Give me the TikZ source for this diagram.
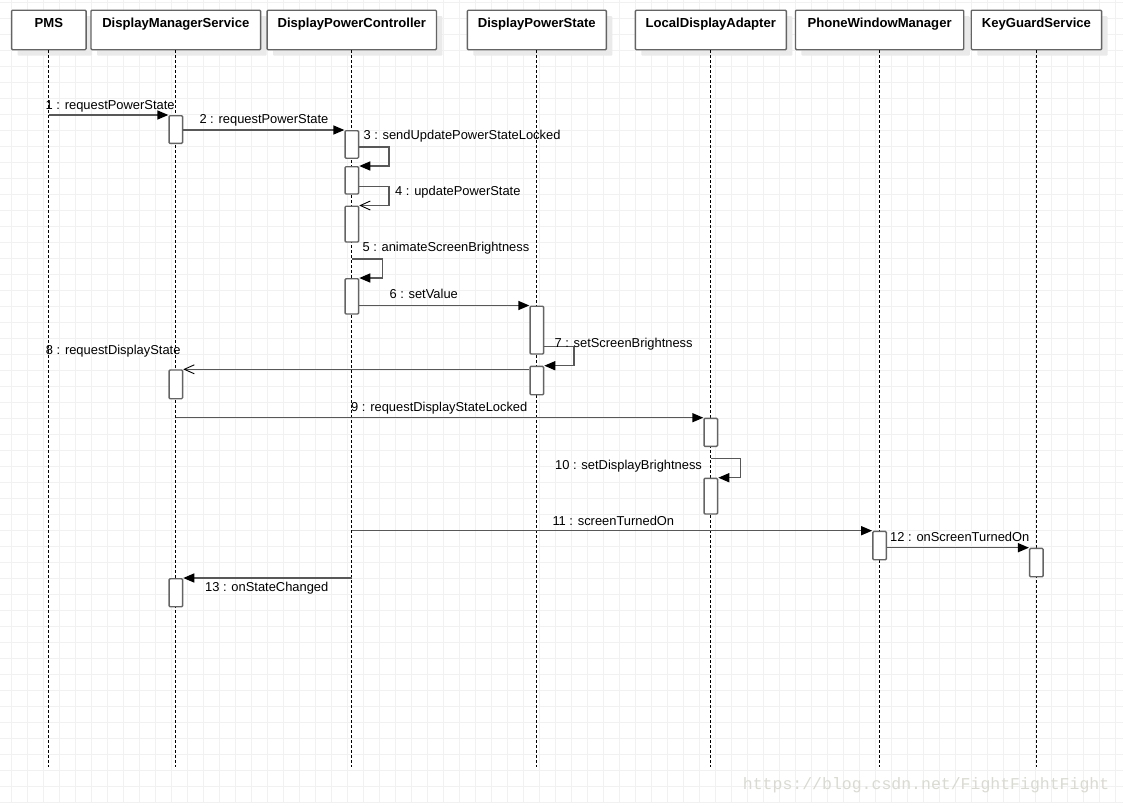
\documentclass[tikz,border=0pt]{standalone}
\usepackage{fontspec}
\setmainfont{Liberation Sans}
\newfontfamily\wmfont{Liberation Mono}
\usetikzlibrary{arrows.meta,shadows}
\definecolor{gridc}{RGB}{241,241,241}
\definecolor{linec}{RGB}{88,88,88}
\definecolor{boxc}{RGB}{100,100,100}
\definecolor{shadc}{RGB}{234,234,234}
\definecolor{wmc}{RGB}{218,218,210}
\begin{document}
\begin{tikzpicture}[x=1pt,y=-1pt,
  gridl/.style={draw=gridc, line width=1pt},
  head/.style={draw=boxc, line width=1.4pt, fill=white, rounded corners=1pt,
    inner xsep=0pt, inner ysep=0pt, text height=17.2pt, text depth=22.3pt,
    anchor=north, font=\fontsize{13.1}{15}\selectfont\bfseries,
    drop shadow={shadow xshift=6pt, shadow yshift=-6pt, fill=shadc, opacity=1}},
  life/.style={draw=black, line width=1pt, dash pattern=on 3pt off 2pt},
  act/.style={draw=boxc, line width=1.4pt, fill=white, rounded corners=1pt,
    minimum width=13.5pt, inner sep=0pt, anchor=north},
  msg/.style={draw=linec, line width=1.4pt, -{Triangle[length=11pt,width=9pt,color=black]}},
  msgopen/.style={draw=linec, line width=1.4pt, -{Straight Barb[length=10pt,width=9pt,color=black,line width=0.9pt]}},
  lbl/.style={anchor=base west, inner sep=0pt, font=\fontsize{12.9}{15}\selectfont},
]
\useasboundingbox (0,0) rectangle (1123,803);
\fill[white] (0,0) rectangle (1123,803);
% grid
\foreach \x in {11.3,27.3,...,1123} \draw[gridl] (\x,0) -- (\x,803);
\foreach \y in {2,18,...,803} \draw[gridl] (0,\y) -- (1123,\y);

% headers
\node[head, minimum width=74.5pt]  (pms) at (48.8,9.5)   {PMS};
\node[head, minimum width=169.6pt] (dms) at (175.8,9.5)  {DisplayManagerService};
\node[head, minimum width=169.3pt] (dpc) at (351.8,9.5)  {DisplayPowerController};
\node[head, minimum width=139pt]   (dps) at (536.8,9.5)  {DisplayPowerState};
\node[head, minimum width=151pt]   (lda) at (710.8,9.5)  {LocalDisplayAdapter};
\node[head, minimum width=168.3pt] (pwm) at (879.6,9.5)  {PhoneWindowManager};
\node[head, minimum width=130.3pt] (kgs) at (1036.4,9.5) {KeyGuardService};

\coordinate (bottom) at (0,767);
\foreach \n in {pms,dms,dpc,dps,lda,pwm,kgs}
  \draw[life] (\n.south) -- (\n.south |- bottom);

% activations
\node[act, minimum height=27.7pt] (dms1) at (175.8,115) {};
\node[act, minimum height=28.7pt] (dms2) at (175.8,369.3) {};
\node[act, minimum height=28pt]   (dms3) at (175.8,578) {};
\node[act, minimum height=27.5pt] (dpc1) at (351.8,130) {};
\node[act, minimum height=27.3pt] (dpc2) at (351.8,166) {};
\node[act, minimum height=35.8pt] (dpc3) at (351.8,205.5) {};
\node[act, minimum height=35.3pt] (dpc4) at (351.8,278) {};
\node[act, minimum height=47.8pt] (dps1) at (536.8,305.5) {};
\node[act, minimum height=28.3pt] (dps2) at (536.8,365.7) {};
\node[act, minimum height=28pt]   (lda1) at (710.8,417.7) {};
\node[act, minimum height=35.6pt] (lda2) at (710.8,477.7) {};
\node[act, minimum height=28.3pt] (pwm1) at (879.6,530.7) {};
\node[act, minimum height=28.3pt] (kgs1) at (1036.4,547.7) {};

% messages
\draw[msg] (dms1.north west -| pms) -- (dms1.north west);
\draw[msg] (dpc1.north west -| dms1.east) -- (dpc1.north west);
\draw[msg] ([yshift=-2.5pt]dpc1.east) -- ++(29.8,0) |- (dpc2.north east);
\draw[msgopen] ([yshift=-6pt]dpc2.east) -- ++(29.8,0) |- (dpc3.north east);
\draw[msg] ([yshift=-16.4pt]dpc3.south) -- ++(30.5,0) |- (dpc4.north east);
\draw[msg] (dps1.north west -| dpc4.east) -- (dps1.north west);
\draw[msg] ([yshift=-16.6pt]dps1.east) -- ++(29.8,0) |- (dps2.north east);
\draw[msgopen] (dms2.north east -| dps2.west) -- (dms2.north east);
\draw[msg] (lda1.north west -| dms) -- (lda1.north west);
\draw[msg] ([yshift=-11.6pt]lda1.south) -- ++(29.9,0) |- (lda2.north east);
\draw[msg] (pwm1.north west -| dpc) -- (pwm1.north west);
\draw[msg] (kgs1.north west -| pwm1.east) -- (kgs1.north west);
\draw[msg] (dms3.north east -| dpc) -- (dms3.north east);

% labels
\node[lbl] (l1)  at (45.5,109.5)  {1 : requestPowerState};
\node[lbl] (l2)  at (199.3,123.5) {2 : requestPowerState};
\node[lbl] (l3)  at (363.3,139.5) {3 : sendUpdatePowerStateLocked};
\node[lbl] (l4)  at (395,195.5)   {4 : updatePowerState};
\node[lbl] (l5)  at (362.3,251.5) {5 : animateScreenBrightness};
\node[lbl] (l6)  at (389.3,298.5) {6 : setValue};
\node[lbl] (l7)  at (554.3,347.5) {7 : setScreenBrightness};
\node[lbl] (l8)  at (45.7,354.5)  {8 : requestDisplayState};
\node[lbl] (l9)  at (351,411.5)   {9 : requestDisplayStateLocked};
\node[lbl] (l10) at (555,469.5)   {10 : setDisplayBrightness};
\node[lbl] (l11) at (552.3,525)   {11 : screenTurnedOn};
\node[lbl] (l12) at (890,541.5)   {12 : onScreenTurnedOn};
\node[lbl] (l13) at (205,591.5)   {13 : onStateChanged};

% watermark
\node[anchor=base west, inner sep=0pt, text=wmc, font=\wmfont\fontsize{16.5}{18}\selectfont] (wm) at (742.7,789.3) {https://blog.csdn.net/FightFightFight};
\end{tikzpicture}
\end{document}
